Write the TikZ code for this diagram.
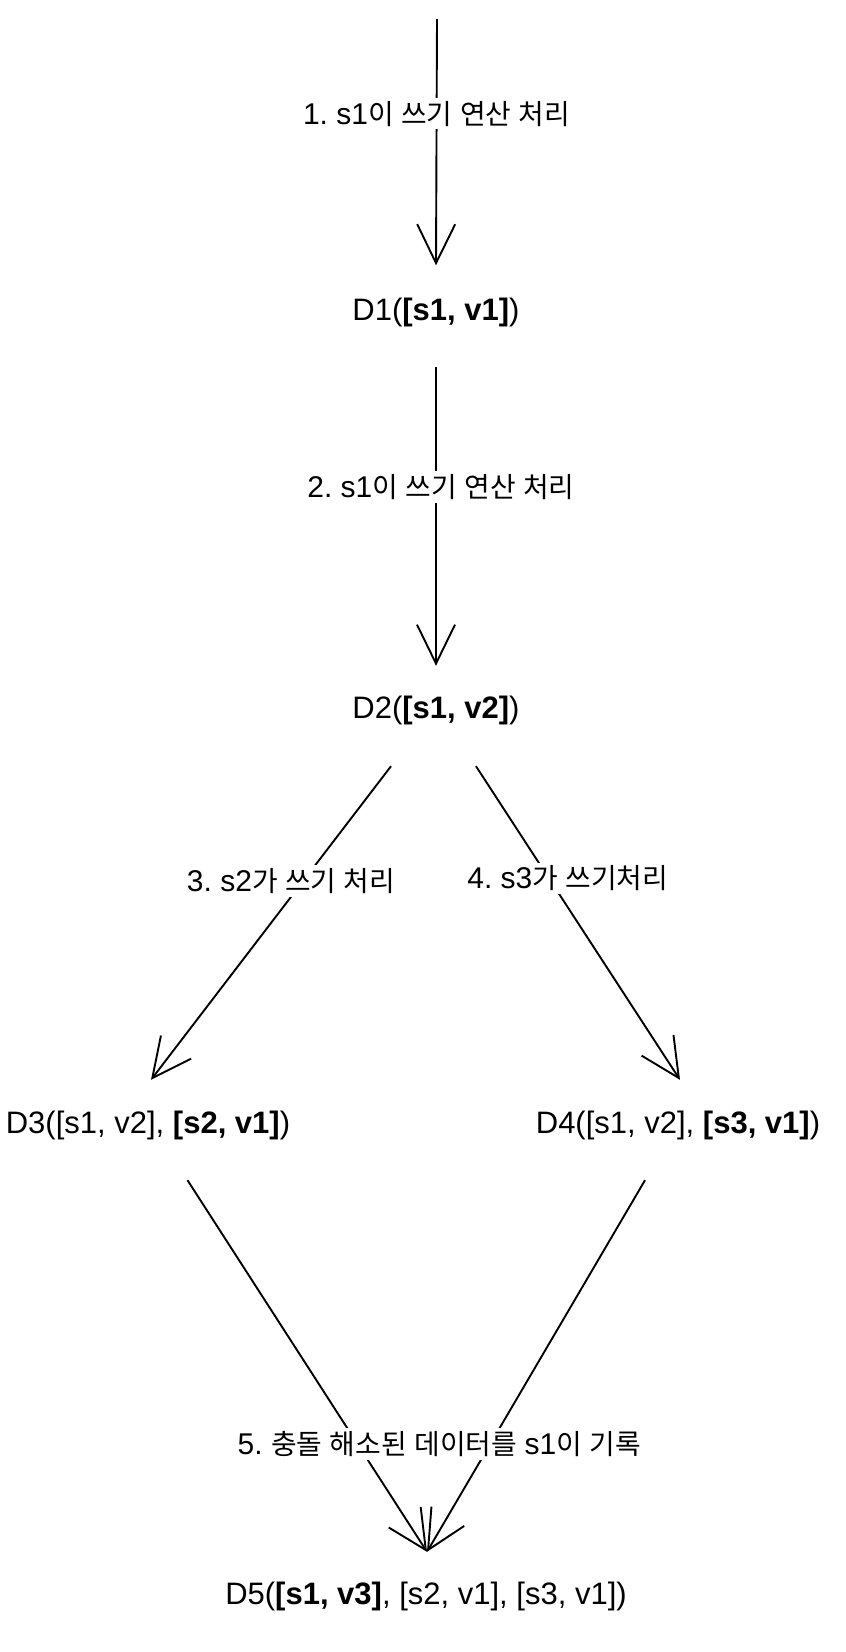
\documentclass[tikz,border=0pt]{standalone}
\usepackage{fontspec}
\setmainfont{Liberation Sans}
\newfontfamily\kr[Scale=0.93,WordSpace=1.2]{Noto Sans CJK KR}
\usetikzlibrary{arrows.meta}
\newcommand\nodefnt{\fontsize{31}{37}\selectfont}
\newcommand\labfnt{\fontsize{30}{36}\selectfont}
\frenchspacing
\begin{document}
\begin{tikzpicture}[x=1pt,y=-1pt,
  dnode/.style={inner sep=0pt, anchor=base, font=\nodefnt},
  elabel/.style={fill=white, inner xsep=1pt, inner ysep=3pt, font=\labfnt},
  conn/.style={line width=1.9pt, -{Straight Barb[length=39pt,width=38pt]}}]
\useasboundingbox (0,0) rectangle (846,1652);
\coordinate (top) at (437,19);
\node[dnode, text height=54.5pt, text depth=47pt] (D1) at (436,320) {D1(\textbf{[s1, v1]})};
\node[dnode, text height=52pt, text depth=48pt] (D2) at (436,718) {D2(\textbf{[s1, v2]})};
\node[dnode, text height=53pt, text depth=47pt] (D3) at (148,1133) {D3([s1, v2], \textbf{[s2, v1]})};
\node[dnode, text height=53pt, text depth=47pt] (D4) at (678,1133) {D4([s1, v2], \textbf{[s3, v1]})};
\node[dnode, text height=52pt, text depth=30pt] (D5) at (426,1604) {D5(\textbf{[s1, v3]}, [s2, v1], [s3, v1])};
\draw[conn] (top) -- node[elabel,pos=0.385]{1. s1{\kr 이 쓰기 연산 처리}} (D1.north);
\draw[conn] (D1.south) -- node[elabel,pos=0.401,xshift=5pt]{2. s1{\kr 이 쓰기 연산 처리}} (D2.north);
\draw[conn] ([xshift=-45pt]D2.south) -- node[elabel,pos=0.366,xshift=-12pt]{3. s2{\kr 가 쓰기 처리}} ([xshift=3pt]D3.north);
\draw[conn] ([xshift=40pt]D2.south) -- node[elabel,pos=0.357,xshift=19pt]{4. s3{\kr 가 쓰기처리}} ([xshift=2pt]D4.north);
\draw[conn] ([xshift=39.5pt]D3.south) -- ([xshift=1pt]D5.north);
\draw[conn] ([xshift=-33pt]D4.south) -- node[elabel,pos=0.71,xshift=-51pt]{5. {\kr 충돌 해소된 데이터를 }s1{\kr 이 기록}} ([xshift=1pt]D5.north);
\end{tikzpicture}
\end{document}
